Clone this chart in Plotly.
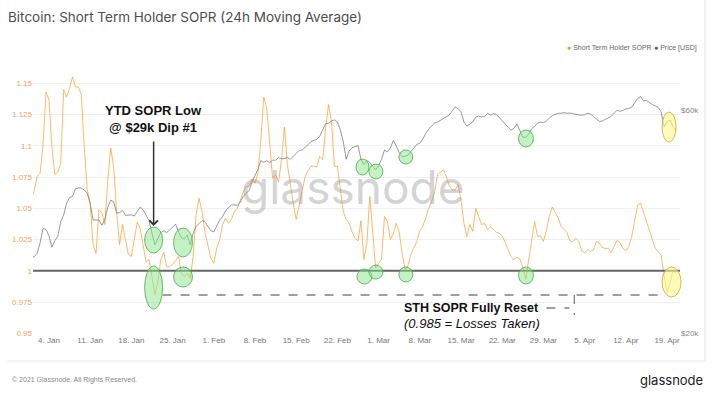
import pandas as pd
import plotly.graph_objects as go

# ---------------- data (12-hourly readings, 2021-01-01 .. 2021-04-20) ----------------
start_date = "2021-01-01 00:00"
sopr = [
    1.057, 1.064, 1.0755, 1.078, 1.101, 1.143, 1.137, 1.099, 1.077, 1.079,
    1.086, 1.145, 1.139, 1.146, 1.155, 1.147, 1.147, 1.141, 1.0995, 1.065,
    1.054, 1.021, 1.014, 1.049, 1.046, 1.037, 1.073, 1.098, 1.083, 1.047,
    1.021, 1.037, 1.025, 1.013, 1.0115, 1.027, 1.039, 1.034, 1.0195, 1.007,
    1.009, 0.994, 0.981, 0.991, 1.009, 1.015, 1.003, 1.0035, 1.005, 1.008,
    1.0115, 0.998, 0.9955, 0.9976, 0.994, 1.0115, 1.045, 1.058, 1.0475, 1.031,
    1.0195, 1.010, 1.006, 1.018, 1.025, 1.037, 1.042, 1.038, 1.041, 1.0475,
    1.050, 1.057, 1.063, 1.0675, 1.0675, 1.0736, 1.070, 1.078, 1.105, 1.139,
    1.130, 1.102, 1.074, 1.077, 1.071, 1.089, 1.115, 1.085, 1.0675, 1.054,
    1.041, 1.053, 1.065, 1.075, 1.080, 1.0835, 1.084, 1.083, 1.0915, 1.089,
    1.114, 1.133, 1.119, 1.0835, 1.0835, 1.065, 1.0475, 1.041, 1.038, 1.031,
    1.026, 1.024,
    1.040, 1.009, 1.022, 1.0595, 1.033, 1.002, 1.006, 1.009,
    1.0435, 1.0395, 1.025, 1.030, 1.038, 1.031, 1.014, 1.001, 1.004, 1.0135,
    1.0187, 1.0235, 1.032, 1.0355, 1.042, 1.050, 1.0555, 1.0627, 1.0768, 1.079,
    1.0808, 1.0755, 1.068, 1.0648, 1.0648, 1.0688, 1.0568, 1.038, 1.0275, 1.037,
    1.0315, 1.050, 1.0435, 1.037, 1.038, 1.033, 1.035, 1.0333, 1.0307, 1.030,
    1.028, 1.0227, 1.016, 1.0115, 1.0088, 1.011, 1.0093, 1.0027, 0.9933, 1.0088,
    1.0275, 1.0395, 1.0275, 1.028, 1.0235, 1.032, 1.0435, 1.051, 1.0467, 1.0424,
    1.0355, 1.033, 1.0307, 1.024, 1.0235, 1.026, 1.0235, 1.016, 1.0147, 1.0168,
    1.0155, 1.0168, 1.0235, 1.0221, 1.0187, 1.0179, 1.0181, 1.0147, 1.0195, 1.0243,
    1.0227, 1.0179, 1.016, 1.0195, 1.0275, 1.0408, 1.0525, 1.0541, 1.047, 1.0395,
    1.0328, 1.0248, 1.0179, 1.0152, 1.0125, 0.9968, 0.9827, 0.9901, 1.0003, 0.998,
]
price = [
    29100, 29200, 29700, 31300, 33600, 33400, 32400, 30600, 31600, 32300,
    34700, 35900, 38000, 39100, 39300, 40800, 41000, 40950, 40600, 39900,
    38000, 35000, 35000, 35000, 34100, 35100, 37300, 38600, 38300, 36200,
    36300, 36700, 35800, 35900, 35900, 35700, 36500, 37300, 36800, 35700,
    34900, 32800, 30950, 31900, 32900, 33200, 32900, 33300, 33800, 34300,
    33100, 32100, 31900, 32500, 30950, 32800, 33900, 34400, 34900, 34700,
    33900, 33200, 33000, 34000, 35000, 35600, 36600, 37200, 37700, 37700,
    37600, 38200, 39300, 39900, 40500, 42200, 43600, 44900, 46900, 46500,
    46900, 46400, 47000, 47000, 47600, 47300, 47400, 47600, 47200, 47900,
    48600, 49300, 49400, 50000, 50700, 51500, 51900, 52100, 52900, 54500,
    56200, 56400, 57000, 57300, 56700, 54600, 51500, 47200, 49200, 50000,
    50200, 50500,
    47200, 46000, 46900, 46500, 45600, 44800, 45800, 47200,
    49400, 49000, 49900, 51800, 50400, 48800, 47800, 47900, 48200, 49000,
    50000, 50800, 51100, 52100, 53600, 54800, 55600, 56400, 56700, 57200,
    57700, 58000, 58700, 59900, 61100, 60600, 59700, 56700, 55600, 56100,
    56800, 58100, 58400, 58200, 58200, 59200, 58700, 59100, 58900, 58000,
    56900, 56100, 55300, 54500, 55000, 56200, 54400, 52600, 52600, 53500,
    54900, 55500, 56400, 56700, 56500, 57000, 57800, 58500, 58900, 59200,
    59200, 59400, 59200, 59300, 59100, 58800, 58700, 58700, 58800, 59200,
    59000, 58300, 57600, 56900, 57000, 57500, 57900, 58300, 59200, 60100,
    59800, 60000, 60500, 60600, 61000, 62500, 63700, 64300, 62900, 63100,
    62400, 61800, 61400, 60900, 59600, 55400, 56800, 57300, 55400, 54500,
]
dates = pd.date_range(start_date, periods=len(sopr), freq="12h")

x_tick_dates = ["2021-01-04", "2021-01-11", "2021-01-18", "2021-01-25", "2021-02-01",
                "2021-02-08", "2021-02-15", "2021-02-22", "2021-03-01", "2021-03-08",
                "2021-03-15", "2021-03-22", "2021-03-29", "2021-04-05", "2021-04-12",
                "2021-04-19"]
x_tick_labels = ["4. Jan", "11. Jan", "18. Jan", "25. Jan", "1. Feb", "8. Feb", "15. Feb",
                 "22. Feb", "1. Mar", "8. Mar", "15. Mar", "22. Mar", "29. Mar", "5. Apr",
                 "12. Apr", "19. Apr"]
sopr_ticks = [0.95, 0.975, 1.0, 1.025, 1.05, 1.075, 1.1, 1.125, 1.15]
sopr_tick_labels = ["0.95", "0.975", "1", "1.025", "1.05", "1.075", "1.1", "1.125", "1.15"]
price_ticks = [20000, 60000]
price_tick_labels = ["$20k", "$60k"]

# ---------------- layout geometry ----------------
W, H = 714, 397
ML, MR, MT, MB = 31, 34, 62, 63
PW, PH = W - ML - MR, H - MT - MB


def PX(x):
    return (x - ML) / PW


def PY(y):
    return (H - MB - y) / PH


ORANGE = "rgba(247,147,26,0.65)"
GREY = "rgba(105,105,105,0.68)"

fig = go.Figure()
fig.add_trace(go.Scatter(x=dates, y=price, yaxis="y2", mode="lines",
                         line=dict(color=GREY, width=1), name="Price [USD]",
                         showlegend=False))
fig.add_trace(go.Scatter(x=dates, y=sopr, yaxis="y", mode="lines",
                         line=dict(color=ORANGE, width=1), name="Short Term Holder SOPR",
                         showlegend=False))

shapes = []
# reference line at SOPR = 1
shapes.append(dict(type="line", xref="paper", yref="y", x0=0, x1=1, y0=1, y1=1,
                   line=dict(color="#666666", width=2), layer="above"))
# dashed reset line
shapes.append(dict(type="line", xref="paper", yref="paper", x0=PX(161), x1=PX(662),
                   y0=PY(295), y1=PY(295), line=dict(color="#808080", width=1.3, dash="dash")))
shapes.append(dict(type="line", xref="paper", yref="paper", x0=PX(546), x1=PX(569),
                   y0=PY(308), y1=PY(308), line=dict(color="#808080", width=1.3, dash="dash")))
shapes.append(dict(type="line", xref="paper", yref="paper", x0=PX(574), x1=PX(574),
                   y0=PY(295), y1=PY(315), line=dict(color="#808080", width=1.3, dash="dash")))

green_boxes = [
    (143, 161, 227, 253), (172, 191, 228, 257), (143, 161, 266, 309), (172, 191, 267, 287),
    (355, 368, 159, 175), (368, 382, 164, 179), (398, 412, 150, 164), (518, 533, 130, 147),
    (356, 371, 269, 284), (368, 382, 265, 279), (398, 412, 267, 282), (518, 533, 267, 284),
]
for x0, x1, y0, y1 in green_boxes:
    shapes.append(dict(type="circle", xref="paper", yref="paper",
                       x0=PX(x0), x1=PX(x1), y0=PY(y1), y1=PY(y0),
                       fillcolor="rgba(140,230,140,0.5)",
                       line=dict(color="rgba(70,170,70,0.8)", width=1)))
for x0, x1, y0, y1 in [(662, 676, 112, 142), (662, 681, 267, 297)]:
    shapes.append(dict(type="circle", xref="paper", yref="paper",
                       x0=PX(x0), x1=PX(x1), y0=PY(y1), y1=PY(y0),
                       fillcolor="rgba(255,248,140,0.6)",
                       line=dict(color="rgba(190,175,50,0.8)", width=1)))
# card border (right and bottom)
shapes.append(dict(type="line", xref="paper", yref="paper", x0=PX(5), x1=PX(705),
                   y0=PY(361), y1=PY(361), line=dict(color="#e6e6e6", width=1)))
shapes.append(dict(type="line", xref="paper", yref="paper", x0=PX(705), x1=PX(705),
                   y0=PY(0), y1=PY(361), line=dict(color="#e6e6e6", width=1)))

TXT = "Liberation Sans, Arial, sans-serif"


def note(text, x, y, size, color, family=TXT, xanchor="center"):
    return dict(text=text, x=PX(x), y=PY(y), xref="paper", yref="paper",
                xanchor=xanchor, yanchor="middle", showarrow=False,
                font=dict(family=family, size=size, color=color))


annotations = [
    note("glassnode", 352, 187, 46, "rgba(150,150,150,0.42)", "Inter, Lato, sans-serif"),
    note("<span style='color:#f7931a'>●</span> Short Term Holder SOPR", 565, 48, 7,
         "#666", xanchor="left"),
    note("<span style='color:#555'>●</span> Price [USD]", 652, 48, 7, "#666",
         xanchor="left"),
    note("<b>YTD SOPR Low<br>@ $29k Dip #1</b>", 152, 119, 13, "#111"),
    dict(text="", x=PX(152), y=PY(226), xref="paper", yref="paper",
         showarrow=True, ax=0, ay=-86, arrowhead=4, arrowsize=1.1,
         arrowwidth=1.5, arrowcolor="#333"),
    note("<b>STH SOPR Fully Reset</b>", 471, 308, 12.5, "#111"),
    note("<i>(0.985 = Losses Taken)</i>", 471, 323, 13, "#111"),
    note("© 2021 Glassnode. All Rights Reserved.", 8, 380, 7, "#888", xanchor="left"),
    note("glassnode", 705, 380, 13, "#222", "Inter, Lato, sans-serif", xanchor="right"),
]

fig.update_layout(
    width=W, height=H,
    margin=dict(l=ML, r=MR, t=MT, b=MB),
    paper_bgcolor="white", plot_bgcolor="white",
    showlegend=False,
    title=dict(text="Bitcoin: Short Term Holder SOPR (24h Moving Average)",
               x=8 / W, xanchor="left", y=1 - 17 / H, yanchor="middle",
               font=dict(family="Inter, Roboto, sans-serif", size=13.5, color="#4d4d4d")),
    xaxis=dict(range=["2021-01-01 07:00", "2021-04-21 04:48"], showgrid=False,
               zeroline=False, showline=False, tickvals=x_tick_dates,
               ticktext=x_tick_labels, tickfont=dict(family=TXT, size=8, color="#777")),
    yaxis=dict(range=[0.9495, 1.167], tickvals=sopr_ticks, ticktext=sopr_tick_labels,
               showgrid=True, gridcolor="#efefef", zeroline=False, showline=False,
               tickfont=dict(family=TXT, size=8, color="#efa35c")),
    yaxis2=dict(overlaying="y", side="right", type="log", range=[4.3002, 4.8821],
                tickvals=price_ticks, ticktext=price_tick_labels, showgrid=False,
                zeroline=False, showline=False,
                tickfont=dict(family=TXT, size=8, color="#888")),
    shapes=shapes,
    annotations=annotations,
)

fig.write_html("out.html",
               config={"displayModeBar": False},
               post_script="document.body.style.margin='0';"
                           "document.body.style.overflow='hidden';")
